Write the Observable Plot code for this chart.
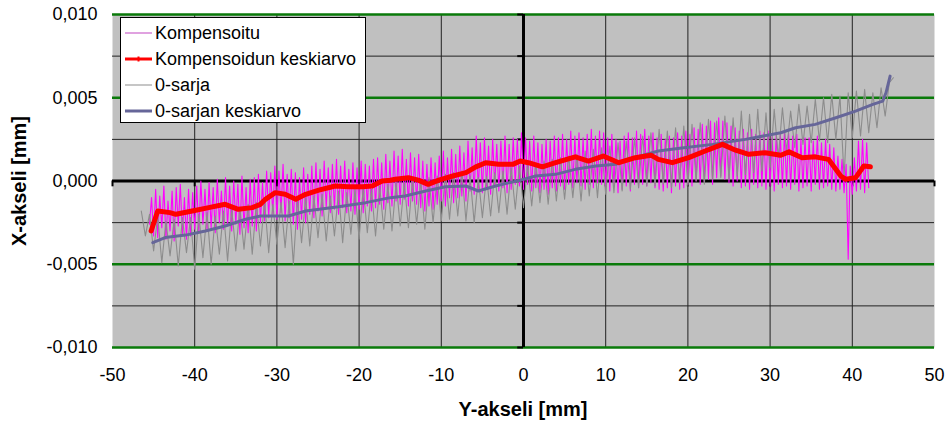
<!DOCTYPE html>
<html><head><meta charset="utf-8">
<script src="https://cdn.jsdelivr.net/npm/d3@7"></script>
<script src="https://cdn.jsdelivr.net/npm/@observablehq/plot@0.6"></script>
<style>body{margin:0;background:#fff;}</style>
</head><body><div id="chart"></div>
<script>
// Series names and colours (legend order)
const seriesNames = ["Kompensoitu", "Kompensoidun keskiarvo", "0-sarja", "0-sarjan keskiarvo"];
const seriesColors = ["#ff00ff", "#ff0000", "#8c8c8c", "#666699"];

// Axis ticks: x in mm, y in µm (labelled in mm)
const xTicks = [-50, -40, -30, -20, -10, 0, 10, 20, 30, 40, 50];
const yTicks = [-10, -5, 0, 5, 10];
const yMinorTicks = [-7.5, -2.5, 2.5, 7.5];

// Kompensoitu (µm), sampled every 0.25 mm from -45.5 mm
const kompStart = -45.5, kompStep = 0.25;
const kompensoitu = [
 -2.6,-1.0,-3.3,-0.5,-3.4,-0.9,-2.8,-0.3,-3.5,-1.2,
 -3.0,-0.6,-3.6,-0.4,-2.7,-0.2,-3.2,-1.0,-3.5,-0.5,
 -3.3,-0.7,-2.9,-0.3,-3.1,0.0,-2.6,-0.5,-3.0,-0.1,
 -2.8,-0.4,-3.1,0.1,-2.5,-0.6,-2.9,0.2,-2.7,-0.3,
 -3.0,0.0,-2.6,-0.2,-3.2,0.3,-2.8,-0.4,-3.1,0.1,
 -2.7,0.2,-3.0,0.4,-2.5,-0.1,-2.4,0.6,-2.2,0.5,
 -2.0,0.9,-2.3,0.6,-1.9,1.0,-2.4,0.4,-2.2,0.7,
 -2.6,0.5,-2.9,0.2,-2.3,0.8,-2.5,0.4,-2.0,0.9,
 -2.2,1.1,-1.8,0.7,-2.1,1.2,-1.6,0.8,-1.9,1.0,
 -1.7,1.3,-2.0,0.9,-1.6,1.2,-1.9,0.7,-1.8,1.1,
 -2.0,0.8,-1.7,1.2,-1.9,1.0,-1.5,0.9,-1.8,1.3,
 -1.6,1.4,-1.4,1.1,-1.7,1.6,-1.3,1.2,-1.5,1.8,
 -1.2,1.5,-1.4,1.9,-1.1,1.3,-1.5,1.7,-1.2,1.4,
 -1.4,1.6,-1.6,1.2,-1.8,1.0,-1.5,1.4,-1.7,1.1,
 -1.4,1.5,-1.2,1.8,-1.5,1.4,-1.0,1.9,-1.3,1.6,
 -1.0,2.1,-0.9,1.7,-1.2,2.4,-0.6,2.0,-0.8,2.7,
 -0.5,2.3,-0.7,2.6,-0.4,2.1,-0.8,2.5,-0.3,2.2,
 -0.6,2.4,-0.4,2.7,-0.7,2.2,-0.5,2.6,-0.2,2.5,
 -0.3,2.9,-0.5,2.6,-0.2,2.4,-0.6,2.7,-0.4,2.3,
 -0.7,2.2,-0.5,2.5,-0.8,2.4,-0.4,2.7,-0.6,2.6,
 -0.3,2.8,-0.5,2.5,-0.2,3.0,-0.4,2.7,-0.1,2.9,
 -0.3,2.6,-0.5,2.8,-0.2,3.1,-0.4,2.7,-0.1,3.0,
 -0.2,2.9,-0.4,2.6,-0.6,2.8,-0.3,2.5,-0.7,2.4,
 -0.5,2.7,-0.3,2.9,-0.6,2.6,-0.2,3.0,-0.4,2.8,
 -0.2,3.1,-0.3,2.7,-0.1,2.9,-0.4,2.6,-0.5,2.8,
 -0.6,2.5,-0.4,2.7,-0.7,2.6,-0.3,2.9,-0.5,2.7,
 -0.4,3.0,-0.2,2.8,-0.3,3.2,0.0,3.1,-0.2,3.4,
 -0.1,3.3,0.1,3.6,-0.2,3.5,0.2,3.8,0.3,3.6,
 0.1,3.5,-0.1,3.3,-0.3,3.2,0.0,3.0,-0.4,3.1,
 -0.3,2.9,-0.5,3.1,-0.2,2.8,-0.4,3.0,-0.3,2.9,
 -0.5,3.0,-0.3,2.7,-0.6,2.9,-0.2,2.8,-0.4,3.0,
 -0.3,2.9,-0.5,2.7,-0.2,2.8,-0.6,2.5,-0.4,2.6,
 -0.3,2.6,-0.6,2.4,-0.2,2.7,-0.5,2.3,-0.4,2.5,
 -0.3,2.2,-0.5,2.0,-0.6,1.5,-0.5,1.3,-0.7,1.0,
 -4.7,0.9,-0.8,1.4,-0.6,2.4,-0.5,2.5,-0.7,2.3,
 -0.4
];

// 0-sarja (µm), sampled every 0.5 mm from -46.5 mm
const sarjaStart = -46.5, sarjaStep = 0.5;
const sarja0 = [
 -1.8,-3.3,-2.0,-4.2,-2.1,-4.9,-2.4,-4.5,-2.3,-5.1,-2.2,-4.3,-2.2,-5.3,
 -2.0,-4.6,-1.9,-5.0,-2.1,-4.4,-1.8,-4.8,-1.7,-4.2,
 -1.6,-4.1,-1.4,-4.4,-1.3,-3.9,-1.2,-4.3,-1.4,-3.8,
 -1.3,-4.0,-1.2,-5.0,-1.1,-3.7,-1.0,-3.9,-0.9,-3.4,
 -0.8,-3.6,-0.9,-3.3,-0.6,-3.7,-0.7,-3.2,-0.5,-3.5,
 -0.4,-3.1,-0.5,-3.3,-0.3,-2.9,-0.2,-3.0,-0.1,-2.7,
 -0.1,-2.8,0.1,-2.6,0.0,-2.9,0.2,-2.5,0.3,-2.4,
 0.4,-2.3,0.5,-2.1,0.6,-2.4,0.3,-2.5,0.2,-2.2,
 0.3,-2.1,0.5,-1.9,0.6,-2.0,0.8,-1.7,0.9,-1.6,
 1.0,-1.5,1.1,-1.3,1.2,-1.4,1.3,-1.2,1.4,-1.1,
 1.5,-1.0,1.6,-1.2,1.8,-0.9,1.9,-1.0,2.0,-0.8,
 2.1,-0.7,2.3,-0.6,2.4,-0.5,2.6,-0.4,2.7,-0.3,
 2.9,-0.3,3.1,-0.2,3.0,-0.4,3.2,-0.1,3.3,-0.3,
 3.4,0.0,3.5,-0.2,3.7,0.1,3.6,0.2,3.9,0.1,
 3.8,0.3,4.2,0.4,4.0,0.5,4.3,0.6,4.1,0.8,
 4.3,1.4,4.4,1.8,4.2,2.0,4.6,2.2,4.5,2.3,
 4.9,2.4,5.0,2.3,5.2,2.5,5.1,0.2,5.3,2.6,
 5.4,2.7,5.5,2.9,5.3,3.2,5.6,3.9,5.9,6.2
];

// Kompensoidun keskiarvo: x (mm), value (µm)
const kompMeanX = [-45.3,-44.5,-43,-42.3,-40.3,-38.3,-36.3,-34.7,-33,-32,-31.4,-30.2,-29,-27.7,-26.5,-24.9,-22.9,-21.3,-19.6,-18.4,-17.2,-16.2,-15.6,-14,-12.8,-11.6,-10.3,-8.6,-7,-5.8,-4.6,-3,-1.3,-0.4,0.6,2.3,3.9,6.3,7.9,9.7,11.6,13.6,15.5,16.4,18.1,20.1,22.1,24.2,25.8,27.4,29.4,31.3,32.3,33.9,35.5,37.1,38.6,39.2,40.4,41.4,42.2];
const kompMean = [-3.0,-1.8,-1.9,-2.0,-1.8,-1.6,-1.4,-1.7,-1.6,-1.4,-1.1,-0.7,-0.8,-1.1,-0.8,-0.55,-0.3,-0.35,-0.35,-0.3,0,0.05,0.1,0.2,0.05,-0.2,0.05,0.3,0.5,0.85,1.1,1.0,1.0,1.2,1.1,0.85,1.1,1.45,1.2,1.5,1.1,1.4,1.55,1.3,1.1,1.4,1.8,2.2,1.85,1.6,1.7,1.55,1.75,1.4,1.45,1.3,0.3,0.1,0.2,0.9,0.85];

// 0-sarjan keskiarvo: x (mm), value (µm)
const sarjaMeanX = [-45.1,-43.6,-41.1,-38.7,-36.3,-33.8,-32,-28.6,-26.5,-22.5,-19.2,-16.2,-14.4,-11.9,-9.5,-7,-5.5,-3.4,-0.4,1.5,3.9,6.3,8.8,11.2,13.5,16.4,19.5,23,27,31.3,33.1,35.5,38,40.4,42.5,43.7,44.1,44.6];
const sarjaMean = [-3.7,-3.4,-3.25,-3.0,-2.7,-2.3,-2.1,-2.1,-1.8,-1.55,-1.3,-1.0,-0.9,-0.6,-0.35,-0.3,-0.6,-0.3,0.05,0.3,0.4,0.7,0.9,1.0,1.4,1.8,2.0,2.2,2.5,2.9,3.2,3.4,3.8,4.2,4.6,4.8,5.3,6.3];

// Build tables
const kompData = kompensoitu.map((v, i) => ({x: kompStart + i * kompStep, y: v}));
const sarjaData = sarja0.map((v, i) => ({x: sarjaStart + i * sarjaStep, y: v}));
const kompMeanData = kompMeanX.map((x, i) => ({x, y: kompMean[i]}));
const sarjaMeanData = sarjaMeanX.map((x, i) => ({x, y: sarjaMean[i]}));

const chart = Plot.plot({
  width: 949, height: 421,
  marginLeft: 112, marginRight: 15, marginTop: 14, marginBottom: 74,
  style: {fontFamily: "'Liberation Sans', Arial, sans-serif", fontSize: "18px", background: "#fff", color: "#000"},
  x: {domain: [-50, 50]},
  y: {domain: [-10, 10]},
  marks: [
    Plot.frame({fill: "#c0c0c0", stroke: null}),
    Plot.ruleX(xTicks.filter(v => v !== 0 && Math.abs(v) < 50), {stroke: "#222", strokeWidth: 1}),
    Plot.ruleY(yMinorTicks, {stroke: "#222", strokeWidth: 1}),
    Plot.ruleY(yTicks.filter(v => v !== 0), {stroke: "#0a7a0a", strokeWidth: 2.5}),
    Plot.ruleX([0], {stroke: "#000", strokeWidth: 3}),
    Plot.ruleY([0], {stroke: "#000", strokeWidth: 3}),
    Plot.ruleY(yTicks.concat(yMinorTicks), {x1: -0.7, x2: 0, stroke: "#000", strokeWidth: 2}),
    Plot.ruleX(xTicks, {y1: -0.35, y2: 0, stroke: "#000", strokeWidth: 2}),
    Plot.line(kompData, {x: "x", y: "y", stroke: seriesColors[0], strokeWidth: 1.1}),
    Plot.line(sarjaData, {x: "x", y: "y", stroke: seriesColors[2], strokeWidth: 1.1}),
    Plot.line(sarjaMeanData, {x: "x", y: "y", stroke: seriesColors[3], strokeWidth: 3}),
    Plot.line(kompMeanData, {x: "x", y: "y", stroke: seriesColors[1], strokeWidth: 5}),
    Plot.axisX(xTicks, {tickSize: 0, tickPadding: 21, tickFormat: d => String(d), label: null}),
    Plot.axisY(yTicks, {tickSize: 0, tickPadding: 15, tickFormat: d => (d / 1000).toFixed(3).replace(".", ","), label: null})
  ]
});
document.getElementById("chart").appendChild(chart);

// Axis titles and legend
const svg = d3.select(chart);
svg.append("text").attr("x", 523).attr("y", 409).attr("dy", "0.35em")
  .attr("text-anchor", "middle").attr("font-weight", "bold").attr("font-size", 20)
  .text("Y-akseli [mm]");
svg.append("text").attr("transform", "translate(19,181) rotate(-90)").attr("dy", "0.35em")
  .attr("text-anchor", "middle").attr("font-weight", "bold").attr("font-size", 20)
  .text("X-akseli [mm]");

const lg = svg.append("g").attr("text-anchor", "start");
lg.append("rect").attr("x", 120.5).attr("y", 17.5).attr("width", 245).attr("height", 105)
  .attr("fill", "#fff").attr("stroke", "#000").attr("stroke-width", 1);
const rowY = [33, 59, 85, 111];
const legendWidths = [1.3, 3, 1.3, 3];
const legendColors = ["#d070d0", seriesColors[1], "#a8a8a8", seriesColors[3]];
seriesNames.forEach((name, i) => {
  lg.append("line").attr("x1", 125).attr("x2", 152).attr("y1", rowY[i]).attr("y2", rowY[i])
    .attr("stroke", legendColors[i]).attr("stroke-width", legendWidths[i]);
  if (i === 1) lg.append("line").attr("x1", 138.5).attr("x2", 138.5).attr("y1", rowY[i] - 2.5).attr("y2", rowY[i] + 2.5)
    .attr("stroke", seriesColors[1]).attr("stroke-width", 2);
  lg.append("text").attr("x", 155).attr("y", rowY[i]).attr("dy", "0.35em")
    .attr("text-anchor", "start").attr("font-size", 18).text(name);
});
</script></body></html>
